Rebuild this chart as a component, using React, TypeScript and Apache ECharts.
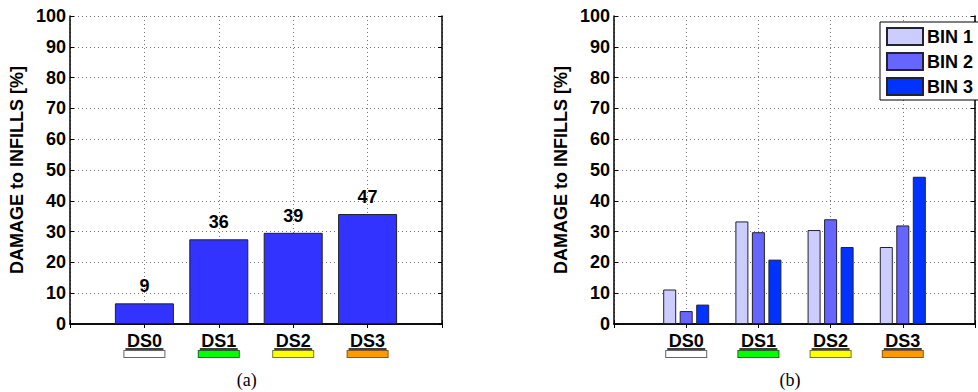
import React, { useEffect, useRef } from "react";
import * as echarts from "echarts";

// Damage states shown on the horizontal axis
const categories = ["DS0", "DS1", "DS2", "DS3"];
// Colour code of each damage state (swatch under the label)
const stateColors = ["#ffffff", "#00ff00", "#ffff00", "#ff9900"];
const stateBorders = ["#666666", "#226622", "#777722", "#885522"];

// (a) damage to infills over all buildings [%], with the building count above each bar
const damageAll = [6.7, 27.5, 29.6, 35.7];
const buildingCounts = [9, 36, 39, 47];

// (b) damage to infills split by bin [%]
const binNames = ["BIN 1", "BIN 2", "BIN 3"];
const binColors = ["#ccccff", "#6666ff", "#0033ff"];
const bin1 = [11.2, 33.3, 30.5, 25.0];
const bin2 = [4.2, 29.8, 34.0, 32.0];
const bin3 = [6.3, 20.9, 25.0, 47.8];

const yMin = 0;
const yMax = 100;
const yStep = 10;

const FONT = "'Liberation Sans', Arial, sans-serif";
const SERIF = "'Liberation Serif', 'Times New Roman', serif";

// one blank slot on each side so the states sit at 1..4 of a 0..5 axis
const axisSlots = [" ", ...categories, "  "];
const pad = (vals: number[]) => [null, ...vals, null];

const richStyles: Record<string, any> = {
  t: { fontFamily: FONT, fontSize: 18, fontWeight: "bold", color: "#000", lineHeight: 15 },
  u: { width: 38, height: 1.5, lineHeight: 2, backgroundColor: "#000" },
};
stateColors.forEach((c, i) => {
  richStyles["s" + i] = {
    width: 40,
    height: 6,
    lineHeight: 8,
    backgroundColor: c,
    borderColor: stateBorders[i],
    borderWidth: 1,
  };
});

function bottomAxis(gridIndex: number) {
  return {
    type: "category",
    gridIndex,
    data: axisSlots,
    boundaryGap: false,
    axisLine: { show: true, lineStyle: { color: "#000", width: 1.5 } },
    axisTick: { show: true, inside: true, length: 4, lineStyle: { color: "#000" } },
    axisLabel: {
      interval: 0,
      margin: 9,
      formatter: (v: string, i: number) =>
        i >= 1 && i <= categories.length ? `{t|${v}}\n{u|}\n{s${i - 1}|}` : "",
      rich: richStyles,
    },
    splitLine: { show: true, lineStyle: { color: "#777", width: 1, type: [1, 3] } },
  };
}

function topAxis(gridIndex: number) {
  return {
    type: "category",
    gridIndex,
    position: "top",
    data: axisSlots,
    boundaryGap: false,
    axisLine: { show: true, lineStyle: { color: "#000", width: 1.5 } },
    axisTick: { show: true, inside: true, length: 4, lineStyle: { color: "#000" } },
    axisLabel: { show: false },
    splitLine: { show: false },
  };
}

function leftAxis(gridIndex: number) {
  return {
    type: "value",
    gridIndex,
    min: yMin,
    max: yMax,
    interval: yStep,
    name: "DAMAGE to INFILLS [%]",
    nameLocation: "middle",
    nameGap: 44,
    nameTextStyle: { fontFamily: FONT, fontSize: 18, fontWeight: "bold", color: "#000" },
    axisLine: { show: true, lineStyle: { color: "#000", width: 1.5 } },
    axisTick: { show: true, inside: true, length: 4, lineStyle: { color: "#000" } },
    axisLabel: { fontFamily: FONT, fontSize: 18, fontWeight: "bold", color: "#000", margin: 4 },
    splitLine: { show: true, lineStyle: { color: "#777", width: 1, type: [1, 3] } },
  };
}

function rightAxis(gridIndex: number) {
  return {
    type: "value",
    gridIndex,
    position: "right",
    min: yMin,
    max: yMax,
    interval: yStep,
    axisLine: { show: true, lineStyle: { color: "#000", width: 1.5 } },
    axisTick: { show: true, inside: true, length: 4, lineStyle: { color: "#000" } },
    axisLabel: { show: false },
    splitLine: { show: false },
  };
}

export default function App() {
  const ref = useRef<HTMLDivElement>(null);

  useEffect(() => {
    if (!ref.current) return;
    const chart = echarts.init(ref.current, undefined, { renderer: "svg" });

    const binSeries = [bin1, bin2, bin3].map((vals, k) => ({
      type: "bar",
      name: binNames[k],
      xAxisIndex: 2,
      yAxisIndex: 2,
      data: pad(vals),
      barWidth: 13,
      barGap: "27%",
      itemStyle: { color: binColors[k], borderColor: "#223", borderWidth: 1 },
    }));

    chart.setOption({
      animation: false,
      backgroundColor: "#fff",
      grid: [
        { left: 70, top: 16, width: 372, height: 308 },
        { left: 614, top: 16, width: 371, height: 308 },
      ],
      xAxis: [bottomAxis(0), topAxis(0), bottomAxis(1), topAxis(1)],
      yAxis: [leftAxis(0), rightAxis(0), leftAxis(1), rightAxis(1)],
      legend: {
        left: 880,
        top: 22,
        orient: "vertical",
        data: binNames,
        icon: "rect",
        itemWidth: 36,
        itemHeight: 17,
        itemGap: 6,
        padding: [5, 6, 4, 6],
        backgroundColor: "#fff",
        borderColor: "#000",
        borderWidth: 1,
        textStyle: { fontFamily: FONT, fontSize: 18, fontWeight: "bold", color: "#000", padding: [0, 0, 0, -1] },
      },
      series: [
        {
          type: "bar",
          name: "ALL",
          xAxisIndex: 0,
          yAxisIndex: 0,
          data: pad(damageAll),
          barWidth: 59,
          itemStyle: { color: "#3333ff", borderColor: "#222", borderWidth: 1 },
          label: {
            show: true,
            position: "top",
            distance: 8,
            fontFamily: FONT,
            fontSize: 18,
            fontWeight: "bold",
            color: "#000",
            formatter: (p: any) => String(buildingCounts[p.dataIndex - 1]),
          },
        },
        ...binSeries,
      ],
      graphic: [
        {
          type: "text",
          x: 246.7,
          y: 380,
          style: { text: "(a)", font: `18px ${SERIF}`, fill: "#000", align: "center", verticalAlign: "middle" },
        },
        {
          type: "text",
          x: 790,
          y: 380,
          style: { text: "(b)", font: `18px ${SERIF}`, fill: "#000", align: "center", verticalAlign: "middle" },
        },
      ],
    });

    return () => chart.dispose();
  }, []);

  return (
    <div
      ref={ref}
      style={{ position: "absolute", left: 0, top: 0, width: 978, height: 392, background: "#fff" }}
    />
  );
}
